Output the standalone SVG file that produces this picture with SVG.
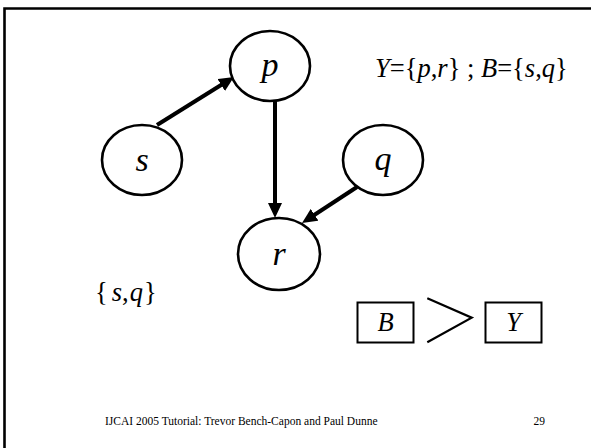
<svg xmlns="http://www.w3.org/2000/svg" width="591" height="448" viewBox="0 0 591 448">
<style>
.node ellipse{fill:#fff;stroke:#000;stroke-width:2.6}
.lbl{font-size:34px;text-anchor:middle;font-style:italic}
.t{font-size:26.5px}
.i{font-style:italic}
.edge{stroke:#000;stroke-width:4;fill:none}
.box{fill:#fff;stroke:#000;stroke-width:2}
.foot{font-size:11.5px}
</style>
<defs>
<marker id="ah" markerUnits="userSpaceOnUse" markerWidth="16" markerHeight="14" refX="5" refY="7" orient="auto">
<path d="M0,0 L15,7 L0,14 z" fill="#000"/>
</marker>
</defs>
<rect width="591" height="448" fill="#fff"/>
<path d="M4.5,448 V8.5 H591" fill="none" stroke="#000" stroke-width="2.6"/>
<g id="connectors">
<line class="edge" x1="157" y1="125" x2="225.5" y2="82.3" marker-end="url(#ah)"/>
<line class="edge" x1="275" y1="101" x2="275" y2="208" marker-end="url(#ah)"/>
<line class="edge" x1="357" y1="187" x2="310.4" y2="217.5" marker-end="url(#ah)"/>
</g>
<g font-family="'Liberation Serif', 'Times New Roman', serif">
<g id="node-p" class="node"><ellipse cx="270" cy="66" rx="40" ry="35"/><text class="lbl" x="270" y="76">p</text></g>
<g id="node-s" class="node"><ellipse cx="142" cy="160" rx="40" ry="35"/><text class="lbl" x="142" y="171">s</text></g>
<g id="node-q" class="node"><ellipse cx="383" cy="160" rx="40" ry="35"/><text class="lbl" x="383" y="170">q</text></g>
<g id="node-r" class="node"><ellipse cx="279" cy="254" rx="41" ry="36"/><text class="lbl" x="279" y="265">r</text></g>
<text class="t" x="375" y="77"><tspan class="i">Y</tspan>={<tspan class="i">p</tspan>,<tspan class="i">r</tspan>} ; <tspan class="i">B</tspan>={<tspan class="i">s</tspan>,<tspan class="i">q</tspan>}</text>
<text class="t" x="95" y="301" font-size="28">{<tspan class="i" dx="4">s</tspan>,<tspan class="i" dx="1">q</tspan><tspan dx="1">}</tspan></text>
<g id="node-B"><rect class="box" x="357.5" y="302.5" width="56" height="40"/><text class="t i" x="385.5" y="331" text-anchor="middle">B</text></g>
<path d="M427.3,298.3 L471.7,317.7 L427.3,342.3" fill="none" stroke="#000" stroke-width="2.2"/>
<g id="node-Y"><rect class="box" x="485.5" y="302.5" width="56" height="40"/><text class="t i" x="513.5" y="331" text-anchor="middle">Y</text></g>
<text class="foot" x="105" y="425">IJCAI 2005 Tutorial: Trevor Bench-Capon and Paul Dunne</text>
<text class="foot" x="545" y="425" text-anchor="end">29</text>
</g>
</svg>
